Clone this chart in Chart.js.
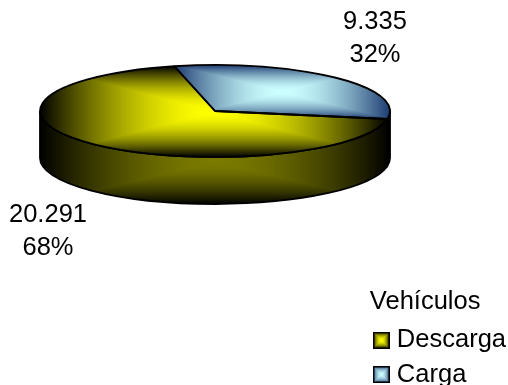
<!DOCTYPE html>
<html>
<head>
<meta charset="utf-8">
<script src="https://cdn.jsdelivr.net/npm/chart.js@4"></script>
<style>
	html, body { margin: 0; padding: 0; background: #fff; }
	#chart-pie { display: block; }
</style>
</head>
<body>
<canvas id="chart-pie" width="508" height="385"></canvas>
<script>
// Data
const categories = ['Descarga', 'Carga'];
const values = [20291, 9335];
const valueLabels = ['20.291', '9.335'];
const percentLabels = ['68%', '32%'];
const legendTitle = 'Vehículos';

// Look of the tilted pie
const fontName = '"Liberation Sans", Arial, sans-serif';
const fontSize = 25.5;
const center = { x: 215, y: 111 };
const radiusX = 175;
const radiusY = 46;
const depth = 47;
const rotation = 100;
const labelSpots = [
	{ x: 48, y: 215 },
	{ x: 375, y: 22 },
];
const faceColors = [
	{ inner: [255, 255, 0], outer: [0, 0, 0] },
	{ inner: [204, 255, 255], outer: [28, 58, 112] },
];
const wallColors = [
	{ inner: [122, 122, 0], outer: [0, 0, 0] },
	{ inner: [20, 40, 70], outer: [0, 0, 0] },
];

// Rectangular "path" gradient like the old office charts, over a box
function pathGradient(box, colors, width, height) {
	const cv = document.createElement('canvas');
	cv.width = width;
	cv.height = height;
	const c = cv.getContext('2d');
	const img = c.createImageData(width, height);
	const mx = (box.left + box.right) / 2;
	const my = (box.top + box.bottom) / 2;
	const hw = (box.right - box.left) / 2;
	const hh = (box.bottom - box.top) / 2;
	for (let y = 0; y < height; y++) {
		for (let x = 0; x < width; x++) {
			const d = Math.min(1, Math.max(Math.abs(x + 0.5 - mx) / hw, Math.abs(y + 0.5 - my) / hh));
			const t = Math.pow(d, 1.7);
			const i = (y * width + x) * 4;
			for (let k = 0; k < 3; k++) {
				img.data[i + k] = colors.inner[k] + (colors.outer[k] - colors.inner[k]) * t;
			}
			img.data[i + 3] = 255;
		}
	}
	c.putImageData(img, 0, 0);
	return cv;
}

// Screen box of a slice on the tilted top face
function sliceBox(start, end) {
	const xs = [0, Math.cos(start), Math.cos(end)];
	const ys = [0, Math.sin(start), Math.sin(end)];
	for (let q = -4; q <= 8; q++) {
		const a = q * Math.PI / 2;
		if (a > start && a < end) {
			xs.push(Math.cos(a));
			ys.push(Math.sin(a));
		}
	}
	return {
		left: center.x + Math.min(...xs) * radiusX,
		right: center.x + Math.max(...xs) * radiusX,
		top: center.y + Math.min(...ys) * radiusY,
		bottom: center.y + Math.max(...ys) * radiusY,
	};
}

const total = values.reduce((a, b) => a + b, 0);
let startAngle = (rotation - 90) * Math.PI / 180;
const facePatterns = values.map((v, i) => {
	const endAngle = startAngle + v / total * Math.PI * 2;
	const box = sliceBox(startAngle, endAngle);
	startAngle = endAngle;
	const cv = pathGradient(box, faceColors[i], 508, 385);
	return cv.getContext('2d').createPattern(cv, 'no-repeat');
});

const wallBox = { left: center.x - radiusX, right: center.x + radiusX, top: center.y + 8, bottom: center.y + radiusY + depth };
const wallPatterns = wallColors.map((colors) => {
	const cv = pathGradient(wallBox, colors, 508, 385);
	return cv.getContext('2d').createPattern(cv, 'no-repeat');
});

const swatches = faceColors.map((colors) => {
	const cv = pathGradient({ left: 0, right: 17, top: 0, bottom: 17 }, colors, 17, 17);
	const c = cv.getContext('2d');
	c.strokeStyle = '#000';
	c.lineWidth = 1.5;
	c.strokeRect(0.75, 0.75, 15.5, 15.5);
	return cv;
});

function tracePie(ctx, arc) {
	ctx.beginPath();
	ctx.moveTo(center.x, center.y);
	ctx.ellipse(center.x, center.y, radiusX, radiusY, 0, arc.startAngle, arc.endAngle);
	ctx.closePath();
}

const tiltedPie = {
	id: 'tiltedPie',
	beforeDatasetDraw(chart) {
		const ctx = chart.ctx;
		const arcs = chart.getDatasetMeta(0).data;

		// side wall, only the front half shows
		ctx.save();
		ctx.lineWidth = 1.8;
		ctx.strokeStyle = '#000';
		arcs.forEach((arc, i) => {
			[0, Math.PI * 2].forEach((turn) => {
				const from = Math.max(arc.startAngle, turn);
				const to = Math.min(arc.endAngle, turn + Math.PI);
				if (to <= from) return;
				ctx.beginPath();
				ctx.ellipse(center.x, center.y, radiusX, radiusY, 0, from, to);
				ctx.ellipse(center.x, center.y + depth, radiusX, radiusY, 0, to, from, true);
				ctx.closePath();
				ctx.fillStyle = wallPatterns[i];
				ctx.fill();
				ctx.stroke();
			});
		});
		ctx.restore();

		// the library draws round arcs, squash them here
		const arc = arcs[0];
		ctx.save();
		ctx.translate(center.x, center.y);
		ctx.scale(radiusX / arc.outerRadius, radiusY / arc.outerRadius);
		ctx.translate(-arc.x, -arc.y);
		const inverse = ctx.getTransform().inverse();
		facePatterns.forEach((p) => p.setTransform(inverse));
	},
	afterDatasetDraw(chart) {
		const ctx = chart.ctx;
		ctx.restore();

		ctx.save();
		ctx.lineWidth = 1.8;
		ctx.strokeStyle = '#000';
		ctx.lineJoin = 'round';
		chart.getDatasetMeta(0).data.forEach((arc) => {
			tracePie(ctx, arc);
			ctx.stroke();
		});
		ctx.restore();
	},
	afterDraw(chart) {
		const ctx = chart.ctx;
		ctx.save();
		ctx.font = fontSize + 'px ' + fontName;
		ctx.fillStyle = '#000';
		ctx.textAlign = 'center';
		ctx.textBaseline = 'middle';
		labelSpots.forEach((spot, i) => {
			ctx.fillText(valueLabels[i], spot.x, spot.y);
			ctx.fillText(percentLabels[i], spot.x, spot.y + 33);
		});
		ctx.restore();
	},
};

new Chart(document.getElementById('chart-pie'), {
	type: 'pie',
	data: {
		labels: categories,
		datasets: [
			{
				data: values,
				backgroundColor: facePatterns,
				borderWidth: 0,
				clip: false,
			},
		],
	},
	options: {
		responsive: false,
		animation: false,
		rotation: rotation,
		radius: radiusX,
		layout: {
			padding: { right: -8, bottom: -11 },
		},
		plugins: {
			tooltip: { enabled: false },
			legend: {
				position: 'right',
				align: 'end',
				title: {
					display: true,
					text: legendTitle,
					color: '#000',
					position: 'start',
					font: { family: fontName, size: fontSize },
					padding: { top: 0, bottom: -1 },
				},
				labels: {
					color: '#000',
					font: { family: fontName, size: fontSize },
					usePointStyle: true,
					boxWidth: 5.5,
					boxHeight: 17,
					padding: 8.75,
					generateLabels: (chart) => categories.map((name, i) => ({
						text: name,
						pointStyle: swatches[i],
						fillStyle: '#000',
						strokeStyle: '#000',
						lineWidth: 0,
						index: i,
					})),
				},
			},
		},
	},
	plugins: [tiltedPie],
});
</script>
</body>
</html>
